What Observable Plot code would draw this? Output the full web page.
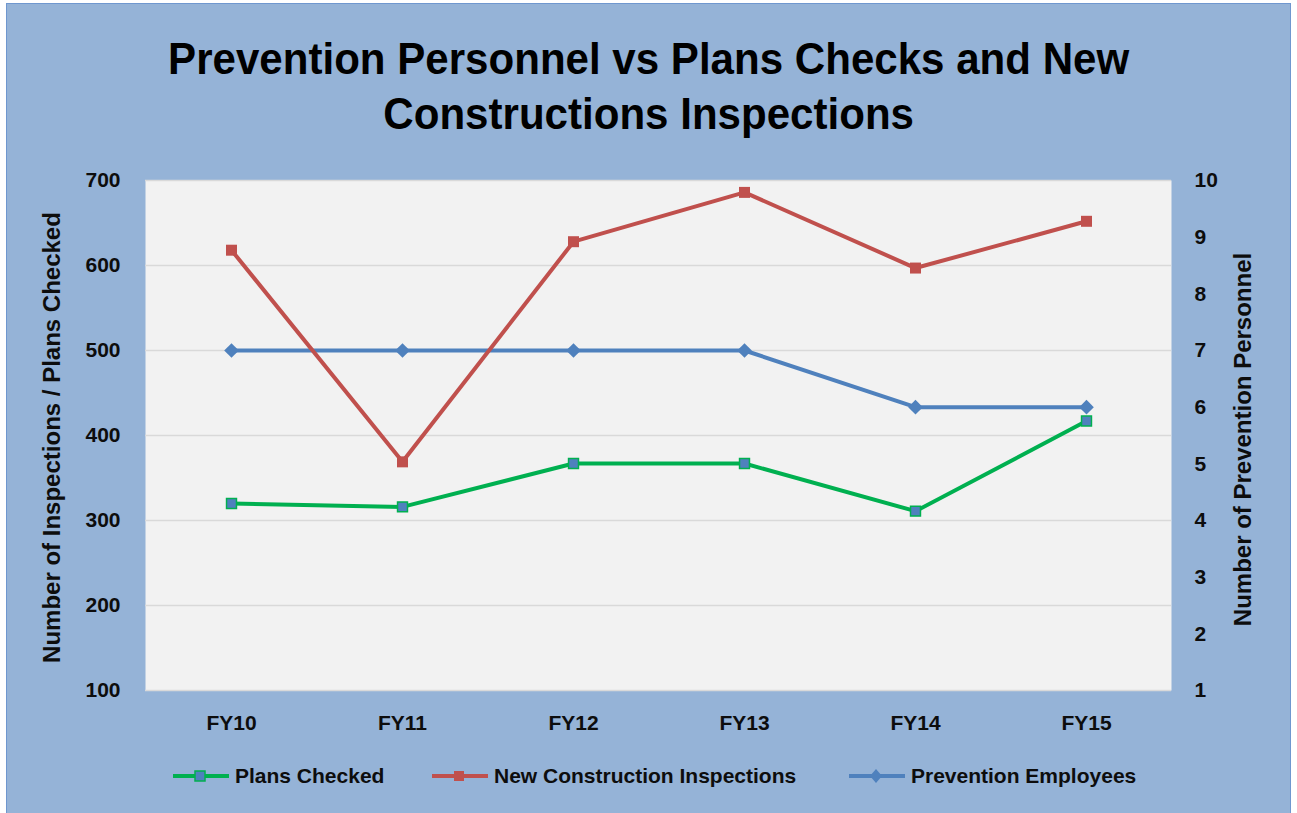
<!DOCTYPE html>
<html>
<head>
<meta charset="utf-8">
<script src="https://cdn.jsdelivr.net/npm/d3@7"></script>
<script src="https://cdn.jsdelivr.net/npm/@observablehq/plot@0.6"></script>
<style>
  html, body { margin: 0; padding: 0; background: #fff; }
  #frame {
    position: absolute; left: 6px; top: 3px; width: 1285px; height: 815px;
    background: #95B3D7; border: 1.5px solid #6F97CF; box-sizing: border-box;
    overflow: hidden;
  }
  #title {
    position: absolute; left: 0; top: 31px; width: 1297px; text-align: center;
    font-family: "Liberation Sans", sans-serif;
    font-weight: bold; font-size: 45px; line-height: 55px; color: #000;
    transform: scaleX(0.935); transform-origin: 651px 0;
  }
  #chart { position: absolute; left: 0; top: 160px; }
  #chart svg text { font-weight: bold; fill: #0d0d0d; }
  .leg { position: absolute; top: 763px; height: 26px; display: flex; align-items: center;
    font-family: "Liberation Sans", sans-serif; font-weight: bold; font-size: 21px; color: #0d0d0d; }
  .leg svg { margin-right: 5px; }
</style>
</head>
<body>
<div id="frame"></div>
<div id="title">Prevention Personnel vs Plans Checks and New<br>Constructions Inspections</div>
<div id="chart"></div>
<div id="legend"></div>
<script>
const categories = ["FY10", "FY11", "FY12", "FY13", "FY14", "FY15"];
const plansChecked = [320, 316, 367, 367, 311, 417];
const newConstruction = [618, 369, 628, 686, 597, 652];
const preventionEmployees = [7, 7, 7, 7, 6, 6];
const leftTicks = [100, 200, 300, 400, 500, 600, 700];
const rightTicks = [1, 2, 3, 4, 5, 6, 7, 8, 9, 10];
const seriesNames = ["Plans Checked", "New Construction Inspections", "Prevention Employees"];
const seriesColors = ["#00B050", "#C0504D", "#4F81BD"];
const leftTitle = "Number of Inspections / Plans Checked";
const rightTitle = "Number of Prevention Personnel";

// map right-axis (personnel 1..10) onto the left scale (100..700)
const toLeft = p => 100 + (p - 1) * 600 / 9;
const fromLeft = v => 1 + (v - 100) * 9 / 600;

const plans = categories.map((c, i) => ({cat: c, v: plansChecked[i]}));
const ncons = categories.map((c, i) => ({cat: c, v: newConstruction[i]}));
const emps = categories.map((c, i) => ({cat: c, v: toLeft(preventionEmployees[i])}));

const font = '"Liberation Sans", sans-serif';

const chart = Plot.plot({
  width: 1297,
  height: 600,
  marginLeft: 145,
  marginRight: 126,
  marginTop: 20,
  marginBottom: 70,
  style: {background: "transparent", fontFamily: font, color: "#0d0d0d", overflow: "visible"},
  x: {type: "point", domain: categories, padding: 0.5},
  y: {domain: [100, 700]},
  marks: [
    Plot.frame({fill: "#F2F2F2", stroke: null}),
    Plot.gridY(leftTicks, {stroke: "#D9D9D9", strokeOpacity: 1, strokeWidth: 1.6}),
    Plot.axisY(leftTicks, {anchor: "left", tickSize: 0, tickPadding: 25, fontSize: 21, label: null}),
    Plot.axisY(rightTicks.map(toLeft), {anchor: "right", tickSize: 0, tickPadding: 23, fontSize: 21, label: null, tickFormat: d => Math.round(fromLeft(d))}),
    Plot.axisX(categories, {anchor: "bottom", tickSize: 0, tickPadding: 25, fontSize: 21, label: null}),
    Plot.text([leftTitle], {frameAnchor: "left", textAnchor: "middle", dx: -93, dy: 2, rotate: -90, fontSize: 24, fontWeight: "bold"}),
    Plot.text([rightTitle], {frameAnchor: "right", textAnchor: "middle", dx: 72, dy: 4, rotate: -90, fontSize: 24, fontWeight: "bold"}),
    Plot.line(emps, {x: "cat", y: "v", stroke: seriesColors[2], strokeWidth: 4}),
    Plot.dot(emps, {x: "cat", y: "v", symbol: "diamond2", r: 6.6, fill: seriesColors[2], stroke: null}),
    Plot.line(ncons, {x: "cat", y: "v", stroke: seriesColors[1], strokeWidth: 4}),
    Plot.dot(ncons, {x: "cat", y: "v", symbol: "square", r: 6.2, fill: seriesColors[1], stroke: null}),
    Plot.line(plans, {x: "cat", y: "v", stroke: seriesColors[0], strokeWidth: 4}),
    Plot.dot(plans, {x: "cat", y: "v", symbol: "square", r: 5.6, fill: seriesColors[2], stroke: seriesColors[0], strokeWidth: 1.5})
  ]
});
document.getElementById("chart").appendChild(chart);

// legend
const legendX = [172, 431, 848];
const legend = document.getElementById("legend");
seriesNames.forEach((name, i) => {
  const div = document.createElement("div");
  div.className = "leg";
  div.style.left = legendX[i] + "px";
  let marker;
  if (i === 2) marker = '<path d="M28,6 L34,13 L28,20 L22,13 Z" fill="#4F81BD"/>';
  else if (i === 1) marker = '<rect x="23" y="8" width="10" height="10" fill="#C0504D"/>';
  else marker = '<rect x="23" y="8" width="10" height="10" fill="#4F81BD" stroke="#00B050" stroke-width="1.5"/>';
  div.innerHTML = `<svg width="58" height="26"><line x1="1" x2="57" y1="13" y2="13" stroke="${seriesColors[i]}" stroke-width="4"/>${marker}</svg><span>${name}</span>`;
  legend.appendChild(div);
});
</script>
</body>
</html>
